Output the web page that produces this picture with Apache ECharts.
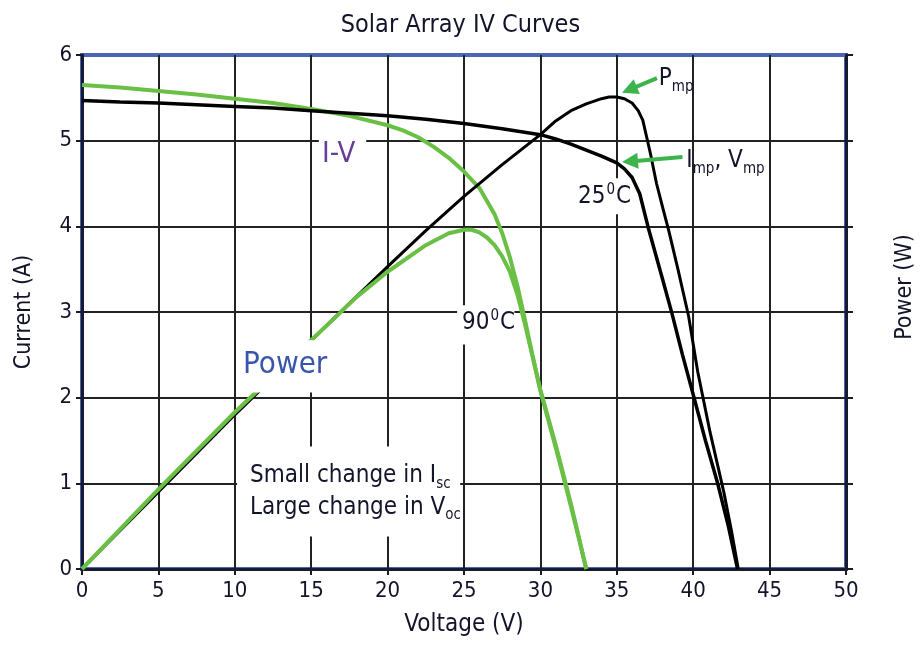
<!DOCTYPE html>
<html><head><meta charset="utf-8">
<script src="https://cdn.jsdelivr.net/npm/echarts@6/dist/echarts.min.js"></script>
<style>html,body{margin:0;padding:0;background:#fff}#c{width:921px;height:645px}</style>
</head><body><div id="c"></div>
<script>
const FONT = '"DejaVu Sans Condensed","Liberation Sans Narrow",sans-serif';

// 25 °C I-V curve (black)
const iv25Voltage = [0,2.5,5,7.5,10,12.5,15,17.5,20,22.5,25,27.5,30,31,32,33,34,35,35.5,36,36.5,37.05,37.5,38,38.6,39.3,40.1,40.8,41.6,42.3,42.9];
const iv25Current = [5.47,5.45,5.44,5.42,5.40,5.38,5.35,5.32,5.29,5.25,5.20,5.14,5.07,5.02,4.96,4.89,4.82,4.74,4.67,4.57,4.38,3.99,3.70,3.38,2.99,2.50,1.97,1.50,1.00,0.50,0.00];

// 90 °C I-V curve (green)
const iv90Voltage = [0,2.5,5,7.5,10,12.5,15,17.5,20,21,22,23,24,25,26,27,27.5,28,28.5,29,29.5,30,30.5,31,31.5,32,32.5,33];
const iv90Current = [5.65,5.62,5.58,5.54,5.49,5.44,5.37,5.29,5.18,5.12,5.04,4.93,4.80,4.64,4.45,4.14,3.92,3.64,3.30,2.90,2.48,2.08,1.75,1.42,1.08,0.73,0.37,0.00];

// 25 °C power curve (black), W
const p25Voltage = [0,5,10,15,17.5,20,22.5,25,27.5,30,31,32,33,34,34.5,35,35.5,36,36.4,36.7,37.2,37.6,38,38.4,39,39.7,40.3,41.1,42,42.5,42.95];
const p25Power   = [0,27,54,80,93,105.9,118.5,130.5,141.6,152.1,156.9,160.5,162.9,164.7,165.3,165.3,164.7,163.2,160.5,157.2,145.5,135,126.6,118.5,105,88.5,69,48,27,13.5,0];

// 90 °C power curve (green), W
const p90Voltage = [0,5,10,15,18,20,22.5,24,25,25.5,26,26.5,27,27.5,28,28.5,29,29.5,30,31,32,33];
const p90Power   = [0,27.9,54.9,80.1,95.4,104.1,113.4,117.6,118.8,118.8,117.9,116.1,113.4,109.5,104.1,96,85.5,74.1,62.7,43.5,22.8,0];

const pair = (xs, ys) => xs.map((x, i) => [x, ys[i]]);
const DARK = '#1a1a2e';
const GREEN = '#6abf45';
const TXT = '#12142a';

const chart = echarts.init(document.getElementById('c'));
chart.setOption({
  animation: false,
  backgroundColor: '#fff',
  title: {text: 'Solar Array IV Curves', left: 'center', top: 8,
    textStyle: {fontFamily: FONT, fontSize: 25, fontWeight: 'normal', color: TXT}},
  grid: {left: 82, right: 75, top: 55, bottom: 76, outerBoundsMode: 'none', containLabel: false,
    show: true, borderColor: '#4a66b2', borderWidth: 4},
  xAxis: {type: 'value', min: 0, max: 50, interval: 5,
    name: 'Voltage (V)', nameLocation: 'middle', nameGap: 44,
    nameTextStyle: {fontFamily: FONT, fontSize: 24, color: TXT},
    axisLine: {show: true, onZero: false, lineStyle: {color: DARK, width: 3}},
    axisTick: {show: true, length: 6, lineStyle: {color: DARK, width: 2}},
    axisLabel: {margin: 11, fontFamily: FONT, fontSize: 22, color: TXT},
    splitLine: {show: true, showMinLine: false, showMaxLine: false, lineStyle: {color: '#222', width: 2}}},
  yAxis: [
    {type: 'value', min: 0, max: 6, interval: 1, position: 'left',
     name: 'Current (A)', nameLocation: 'middle', nameGap: 46,
     nameTextStyle: {fontFamily: FONT, fontSize: 23, color: TXT},
     axisLine: {show: true, lineStyle: {color: DARK, width: 3}},
     axisTick: {show: true, length: 6, lineStyle: {color: DARK, width: 2}},
     axisLabel: {margin: 10, fontFamily: FONT, fontSize: 22, color: TXT},
     splitLine: {show: true, showMinLine: false, showMaxLine: false, lineStyle: {color: '#222', width: 2}}},
    {type: 'value', min: 0, max: 180, interval: 30, position: 'right',
     name: 'Power (W)', nameLocation: 'middle', nameGap: 48,
     nameTextStyle: {fontFamily: FONT, fontSize: 23, color: TXT, padding: [0, 0, 0, 50]},
     axisLine: {show: true, lineStyle: {color: DARK, width: 3}},
     axisTick: {show: true, length: 7, lineStyle: {color: DARK, width: 2}},
     axisLabel: {show: false},
     splitLine: {show: false}}
  ],
  series: [
    {name: 'I-V 90°C', type: 'line', yAxisIndex: 0, data: pair(iv90Voltage, iv90Current), showSymbol: false, smooth: false, lineStyle: {color: GREEN, width: 4}, z: 2},
    {name: 'Power 25°C', type: 'line', yAxisIndex: 1, data: pair(p25Voltage, p25Power), showSymbol: false, smooth: false, lineStyle: {color: '#000', width: 3}, z: 3},
    {name: 'Power 90°C', type: 'line', yAxisIndex: 1, data: pair(p90Voltage, p90Power), showSymbol: false, smooth: false, lineStyle: {color: GREEN, width: 4}, z: 4},
    {name: 'I-V 25°C', type: 'line', yAxisIndex: 0, data: pair(iv25Voltage, iv25Current), showSymbol: false, smooth: false, lineStyle: {color: '#000', width: 3.5}, z: 5}
  ]
});

// annotations, positioned in data coordinates (V, A)
const px = (v, a) => chart.convertToPixel({xAxisIndex: 0, yAxisIndex: 0}, [v, a]);
const g = [];
function whiteBox(v1, a1, v2, a2) {
  const p1 = px(v1, a1), p2 = px(v2, a2);
  g.push({type: 'rect', z: 100, shape: {x: p1[0], y: p1[1], width: p2[0] - p1[0], height: p2[1] - p1[1]}, style: {fill: '#fff'}});
}
function text(v, a, str, rich, align) {
  const p = px(v, a);
  g.push({type: 'text', z: 101, x: p[0], y: p[1], style: {text: str, rich: rich, align: align || 'left', verticalAlign: 'middle', fontFamily: FONT}});
}
function arrow(v1, a1, v2, a2) {
  const p1 = px(v1, a1), p2 = px(v2, a2);
  const dx = p2[0] - p1[0], dy = p2[1] - p1[1], L = Math.hypot(dx, dy);
  const ux = dx / L, uy = dy / L, hl = 16, hw = 8;
  const bx = p2[0] - ux * hl, by = p2[1] - uy * hl;
  g.push({type: 'line', z: 102, shape: {x1: p1[0], y1: p1[1], x2: bx + ux * 2, y2: by + uy * 2}, style: {stroke: '#3cb44b', lineWidth: 4}});
  g.push({type: 'polygon', z: 102, shape: {points: [[p2[0], p2[1]], [bx - uy * hw, by + ux * hw], [bx + uy * hw, by - ux * hw]]}, style: {fill: '#3cb44b'}});
}
const base = {fontFamily: FONT, fontSize: 24, fill: TXT};
const sub = {fontFamily: FONT, fontSize: 15, fill: TXT, padding: [16, 0, 0, 0]};
const sup = {fontFamily: FONT, fontSize: 15, fill: TXT, padding: [0, 1, 14, 1]};

// I-V label
whiteBox(15.5, 5.08, 18.6, 4.62);
text(16.8, 4.84, '{t|I-V}', {t: {fontFamily: FONT, fontSize: 29, fill: '#673d99'}}, 'center');
// Power label
whiteBox(10.4, 2.67, 16.6, 2.06);
text(13.3, 2.38, '{t|Power}', {t: {fontFamily: FONT, fontSize: 31, fill: '#3a56aa'}}, 'center');
// Small / Large change
whiteBox(10.15, 1.43, 24.75, 0.38);
text(11.0, 1.09, '{n|Small change in I}{s|sc}', {n: base, s: sub});
text(11.0, 0.72, '{n|Large change in V}{s|oc}', {n: base, s: sub});
// 90 C
whiteBox(24.55, 3.08, 28.3, 2.62);
text(24.87, 2.87, '{n|90}{p|0}{n|C}', {n: base, p: sup});
// 25 C
whiteBox(32.1, 4.56, 35.7, 4.14);
text(32.46, 4.34, '{n|25}{p|0}{n|C}', {n: base, p: sup});
// Pmp, Imp/Vmp
text(37.75, 5.72, '{n|P}{s|mp}', {n: base, s: sub});
text(39.55, 4.76, '{n|I}{s|mp}{n|, V}{s|mp}', {n: base, s: sub});
arrow(37.63, 5.73, 35.34, 5.56);
arrow(39.3, 4.81, 35.34, 4.75);

chart.setOption({graphic: g});
</script>
</body></html>
